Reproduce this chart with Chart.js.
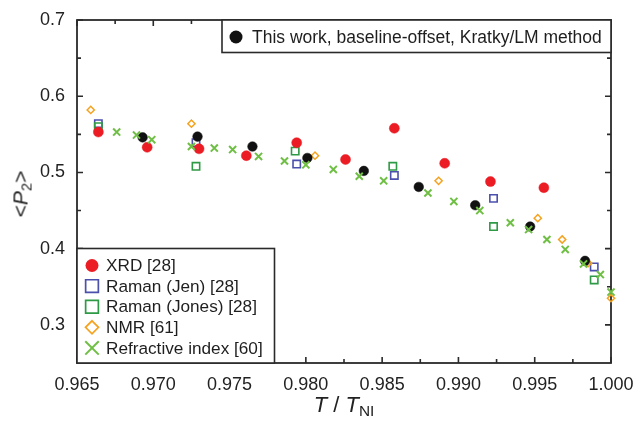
<!DOCTYPE html>
<html><head><meta charset="utf-8">
<script src="https://cdn.jsdelivr.net/npm/chart.js@4.4.1/dist/chart.umd.min.js"></script>
<style>
html,body{margin:0;padding:0;background:#fff;}
#wrap{position:relative;width:636px;height:423px;}
canvas{position:absolute;left:0;top:0;}
.ttl{position:absolute;font-family:'Liberation Sans',Arial,Helvetica,sans-serif;color:#222;white-space:nowrap;line-height:1;}
#ytitle{left:20px;top:194px;transform:translate(-50%,-50%) rotate(-90deg);font-size:21px;}
#xtitle{left:344px;top:405px;transform:translate(-50%,-50%);font-size:22px;}
.ttl sub{font-size:70%;vertical-align:-0.28em;line-height:0;}
</style></head><body>
<div id="wrap"><canvas id="c" width="636" height="423"></canvas>
<div class="ttl" id="ytitle">&lt;<i>P</i><sub>2</sub>&gt;</div>
<div class="ttl" id="xtitle"><i>T</i> / <i>T</i><sub>NI</sub></div>
</div>
<script>
// ---- tick values ----
const xTicks = [0.965, 0.970, 0.975, 0.980, 0.985, 0.990, 0.995, 1.000];
const xMinorTicks = [0.9675, 0.9725, 0.9775, 0.9825, 0.9875, 0.9925, 0.9975];
const yTicks = [0.3, 0.4, 0.5, 0.6, 0.7];
const yMinorTicks = [0.35, 0.45, 0.55, 0.65];

// ---- series ----
const thisWorkX = [0.9693, 0.9729, 0.9765, 0.9801, 0.9838, 0.9874, 0.9911, 0.9947, 0.9983];
const thisWorkY = [0.546, 0.547, 0.534, 0.519, 0.502, 0.481, 0.457, 0.429, 0.384];

const xrdX = [0.9664, 0.9696, 0.9730, 0.9761, 0.9794, 0.9826, 0.9858, 0.9891, 0.9921, 0.9956];
const xrdY = [0.553, 0.533, 0.531, 0.522, 0.539, 0.517, 0.558, 0.512, 0.488, 0.480];

const ramanJenX = [0.9664, 0.9728, 0.9794, 0.9858, 0.9923, 0.9989];
const ramanJenY = [0.564, 0.539, 0.511, 0.496, 0.466, 0.376];

const ramanJonesX = [0.9664, 0.9728, 0.9793, 0.9857, 0.9923, 0.9989];
const ramanJonesY = [0.560, 0.508, 0.528, 0.508, 0.429, 0.359];

const nmrX = [0.9659, 0.9725, 0.9806, 0.9887, 0.9952, 0.9968, 0.9985, 1.0000];
const nmrY = [0.582, 0.564, 0.522, 0.489, 0.440, 0.412, 0.381, 0.335];

const refrX = [0.9676, 0.9689, 0.9699, 0.9725, 0.9740, 0.9752, 0.9769, 0.9786, 0.9800, 0.9818, 0.9835,
               0.9851, 0.9880, 0.9897, 0.9914, 0.9934, 0.9946, 0.9958, 0.9970, 0.9982, 0.9993, 1.0000];
const refrY = [0.553, 0.549, 0.543, 0.534, 0.532, 0.530, 0.521, 0.515, 0.510, 0.504, 0.495,
               0.489, 0.473, 0.462, 0.450, 0.434, 0.425, 0.412, 0.399, 0.380, 0.366, 0.343];

const topLegendLabels = ['This work, baseline-offset, Kratky/LM method'];
const bottomLegendLabels = ['XRD [28]', 'Raman (Jen) [28]', 'Raman (Jones) [28]', 'NMR [61]', 'Refractive index [60]'];

const FONT = "'Liberation Sans', Arial, Helvetica, sans-serif";
const C_BLACK = '#111111', C_RED = '#ec1c24', C_BLUE = '#4b50ad', C_GREEN = '#2f9a45', C_ORANGE = '#f5a21e', C_LGREEN = '#6fbf45';

function pts(xs, ys) { return xs.map((x, i) => ({ x: x, y: ys[i] })); }

const datasets = [
  { label: topLegendLabels[0], data: pts(thisWorkX, thisWorkY), pointStyle: 'circle', pointRadius: 4.8,
    backgroundColor: C_BLACK, borderColor: C_BLACK, borderWidth: 0.5, order: 2, legendGroup: 'top', legendR: 6.5 },
  { label: bottomLegendLabels[0], data: pts(xrdX, xrdY), pointStyle: 'circle', pointRadius: 5,
    backgroundColor: C_RED, borderColor: C_RED, borderWidth: 0.5, order: 1, legendGroup: 'bottom', legendR: 6.5 },
  { label: bottomLegendLabels[1], data: pts(ramanJenX, ramanJenY), pointStyle: 'rect', pointRadius: 5.2,
    backgroundColor: 'rgba(0,0,0,0)', borderColor: C_BLUE, borderWidth: 1.6, order: 5, legendGroup: 'bottom', legendR: 9 },
  { label: bottomLegendLabels[2], data: pts(ramanJonesX, ramanJonesY), pointStyle: 'rect', pointRadius: 5.2,
    backgroundColor: 'rgba(0,0,0,0)', borderColor: C_GREEN, borderWidth: 1.6, order: 4, legendGroup: 'bottom', legendR: 9 },
  { label: bottomLegendLabels[3], data: pts(nmrX, nmrY), pointStyle: 'rectRot', pointRadius: 3.6,
    backgroundColor: 'rgba(0,0,0,0)', borderColor: C_ORANGE, borderWidth: 1.5, order: 3, legendGroup: 'bottom', legendR: 6.5 },
  { label: bottomLegendLabels[4], data: pts(refrX, refrY), pointStyle: 'crossRot', pointRadius: 5,
    backgroundColor: C_LGREEN, borderColor: C_LGREEN, borderWidth: 2, order: 0, legendGroup: 'bottom', legendR: 9.5 }
];
datasets.forEach(d => { d.showLine = false; d.clip = false; d.pointHoverRadius = d.pointRadius; });

function drawSymbol(ctx, style, x, y, r, color, lw) {
  ctx.save();
  ctx.strokeStyle = color; ctx.fillStyle = color; ctx.lineWidth = lw;
  ctx.beginPath();
  if (style === 'circle') { ctx.arc(x, y, r, 0, Math.PI * 2); ctx.fill(); }
  else if (style === 'rect') { const s = r * Math.SQRT1_2; ctx.rect(x - s, y - s, 2 * s, 2 * s); ctx.stroke(); }
  else if (style === 'rectRot') { ctx.moveTo(x, y - r); ctx.lineTo(x + r, y); ctx.lineTo(x, y + r); ctx.lineTo(x - r, y); ctx.closePath(); ctx.stroke(); }
  else if (style === 'crossRot') { const s = r * Math.SQRT1_2; ctx.moveTo(x - s, y - s); ctx.lineTo(x + s, y + s); ctx.moveTo(x + s, y - s); ctx.lineTo(x - s, y + s); ctx.stroke(); }
  ctx.restore();
}

const framePlugin = {
  id: 'frame',
  beforeDatasetsDraw(chart) {
    const { ctx, chartArea: a, scales } = chart;
    const xs = scales.x, ys = scales.y;
    ctx.save();
    ctx.strokeStyle = '#2a2a2a'; ctx.lineWidth = 1.6; ctx.lineCap = 'butt';
    ctx.beginPath();
    xTicks.forEach(v => { const p = xs.getPixelForValue(v); ctx.moveTo(p, a.bottom); ctx.lineTo(p, a.bottom - 6); ctx.moveTo(p, a.top); ctx.lineTo(p, a.top + 6); });
    xMinorTicks.forEach(v => { const p = xs.getPixelForValue(v); ctx.moveTo(p, a.bottom); ctx.lineTo(p, a.bottom - 4); ctx.moveTo(p, a.top); ctx.lineTo(p, a.top + 4); });
    yTicks.forEach(v => { const p = ys.getPixelForValue(v); ctx.moveTo(a.left, p); ctx.lineTo(a.left + 6, p); ctx.moveTo(a.right, p); ctx.lineTo(a.right - 6, p); });
    yMinorTicks.forEach(v => { const p = ys.getPixelForValue(v); ctx.moveTo(a.left, p); ctx.lineTo(a.left + 4, p); ctx.moveTo(a.right, p); ctx.lineTo(a.right - 4, p); });
    ctx.stroke();
    ctx.lineWidth = 1.8;
    ctx.strokeRect(a.left, a.top, a.right - a.left, a.bottom - a.top);
    ctx.restore();
  },
  afterDraw(chart) {
    const { ctx, chartArea: a } = chart;
    const ds = chart.data.datasets;
    ctx.save();
    ctx.textBaseline = 'middle'; ctx.textAlign = 'left';
    // top legend
    ctx.font = '17.5px ' + FONT;
    const tl = { l: 222, t: a.top, r: a.right, b: 52.5 };
    ctx.fillStyle = '#fff'; ctx.fillRect(tl.l, tl.t, tl.r - tl.l, tl.b - tl.t);
    ctx.strokeStyle = '#2a2a2a'; ctx.lineWidth = 1.6; ctx.strokeRect(tl.l, tl.t, tl.r - tl.l, tl.b - tl.t);
    ds.filter(d => d.legendGroup === 'top').forEach((d, i) => {
      const cy = 37 + i * 20.6;
      drawSymbol(ctx, d.pointStyle, 236, cy, d.legendR, d.borderColor, d.borderWidth);
      ctx.fillStyle = '#1e1e1e'; ctx.fillText(d.label, 252, cy + 1);
    });
    // bottom legend
    ctx.font = '17.2px ' + FONT;
    const bl = { l: a.left, t: 248.5, r: 274.5, b: a.bottom };
    ctx.fillStyle = '#fff'; ctx.fillRect(bl.l, bl.t, bl.r - bl.l, bl.b - bl.t);
    ctx.strokeStyle = '#2a2a2a'; ctx.lineWidth = 1.6; ctx.strokeRect(bl.l, bl.t, bl.r - bl.l, bl.b - bl.t);
    ds.filter(d => d.legendGroup === 'bottom').forEach((d, i) => {
      const cy = 265.5 + i * 20.6;
      drawSymbol(ctx, d.pointStyle, 92, cy, d.legendR, d.borderColor, d.pointStyle === 'crossRot' ? 2 : 1.7);
      ctx.fillStyle = '#1e1e1e'; ctx.fillText(d.label, 106, cy + 1);
    });
    ctx.restore();
  }
};

new Chart(document.getElementById('c'), {
  type: 'scatter',
  data: { datasets: datasets },
  options: {
    responsive: false, animation: false, devicePixelRatio: 1,
    layout: { padding: { top: 20, right: 25, left: 0, bottom: 0 } },
    plugins: { legend: { display: false }, tooltip: { enabled: false } },
    scales: {
      x: {
        type: 'linear', min: 0.965, max: 1.0,
        afterBuildTicks: s => { s.ticks = xTicks.map(v => ({ value: v })); },
        ticks: { callback: v => Number(v).toFixed(3), font: { family: FONT, size: 18 }, color: '#222', padding: 11, maxRotation: 0, autoSkip: false },
        grid: { display: false, drawTicks: false }, border: { display: false },
        afterFit: s => { s.height = 60; s.paddingLeft = 0; s.paddingRight = 0; }
      },
      y: {
        type: 'linear', min: 0.25, max: 0.7,
        afterBuildTicks: s => { s.ticks = yTicks.map(v => ({ value: v })); },
        ticks: { callback: v => Number(v).toFixed(1), font: { family: FONT, size: 18 }, color: '#222', padding: 12, autoSkip: false },
        grid: { display: false, drawTicks: false }, border: { display: false },
        afterFit: s => { s.width = 77; s.paddingTop = 0; s.paddingBottom = 0; }
      }
    }
  },
  plugins: [framePlugin]
});
</script>
</body></html>
